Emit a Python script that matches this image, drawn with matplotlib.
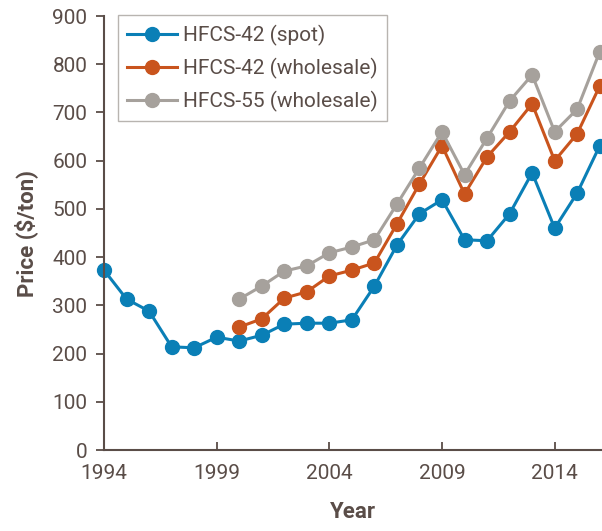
import matplotlib.pyplot as plt

# 数据：年份与价格（$/ton）
years_spot = list(range(1994, 2017))
spot = [373, 313, 288, 214, 212, 234, 226, 238, 261, 263, 263, 270, 340,
        425, 490, 519, 436, 434, 490, 575, 460, 533, 631]
years_whole = list(range(2000, 2017))
whole42 = [255, 272, 315, 328, 361, 373, 388, 469, 552, 631, 531, 608,
           660, 718, 600, 656, 755]
whole55 = [313, 340, 371, 382, 409, 421, 436, 510, 585, 660, 571, 647,
           724, 778, 660, 707, 826]
xticks = [1994, 1999, 2004, 2009, 2014]
yticks = list(range(0, 1000, 100))

txt = '#5a4d48'
plt.rcParams['font.family'] = ['Roboto', 'DejaVu Sans']

fig = plt.figure(figsize=(6.02, 5.31), dpi=100)
ax = fig.add_axes([0.1728, 0.1525, 0.8272, 0.8173])

style = dict(marker='o', markersize=10, linewidth=2.2)
ax.plot(years_spot, spot, color='#0a7fb6', label='HFCS-42 (spot)', **style)
ax.plot(years_whole, whole42, color='#c9541d', label='HFCS-42 (wholesale)', **style)
ax.plot(years_whole, whole55, color='#a6a19c', label='HFCS-55 (wholesale)', **style)

ax.set_xlim(1994, 2016.1)
ax.set_ylim(0, 900)
ax.set_xticks(xticks)
ax.set_yticks(yticks)
ax.tick_params(axis='y', direction='out', length=6, width=1.3, colors=txt,
               labelsize=15, pad=6)
ax.tick_params(axis='x', direction='in', length=6, width=1.3, colors=txt,
               labelsize=15, pad=10)
for s in ['top', 'right']:
    ax.spines[s].set_visible(False)
for s in ['left', 'bottom']:
    ax.spines[s].set_color(txt)
    ax.spines[s].set_linewidth(1.5)
for l in ax.lines:
    l.set_clip_on(False)

ax.set_xlabel('Year', fontsize=16, fontweight='bold', color=txt, labelpad=13)
ax.set_ylabel('Price ($/ton)', fontsize=16, fontweight='bold', color=txt,
              labelpad=10)

leg = ax.legend(loc='upper left', bbox_to_anchor=(0.028, 1.002), fontsize=15,
                frameon=True, fancybox=False, handlelength=2.4,
                borderpad=0.45, labelspacing=0.57, handletextpad=0.25,
                borderaxespad=0)
leg.get_frame().set_edgecolor('#a6a19c')
leg.get_frame().set_linewidth(1)
for t in leg.get_texts():
    t.set_color(txt)

fig.savefig('out.png', dpi=100)
